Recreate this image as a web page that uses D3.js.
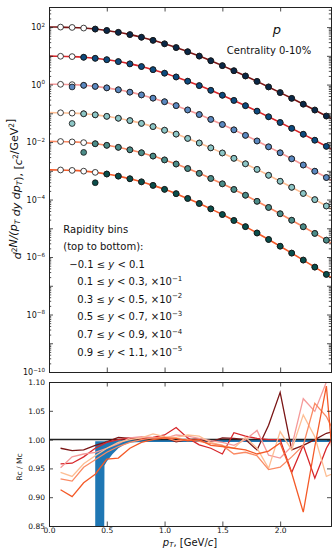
<!DOCTYPE html>
<html><head><meta charset="utf-8">
<script src="https://cdn.jsdelivr.net/npm/d3@7"></script>
<style>body{margin:0;background:#fff} text{font-family:"DejaVu Sans",sans-serif;fill:#111}</style>
</head><body><svg id="c" width="333" height="549"></svg>
<script>
// ---------- data ----------
const fitPt = [0.0,0.1,0.2,0.3,0.4,0.5,0.6,0.7,0.8,0.9,1.0,1.1,1.2,1.3,1.4,1.5,1.6,1.7,1.8,1.9,2.0,2.1,2.2,2.3,2.4,2.5];
const pT = [0.1,0.2,0.3,0.4,0.5,0.6,0.7,0.8,0.9,1.0,1.1,1.2,1.3,1.4,1.5,1.6,1.7,1.8,1.9,2.0,2.1,2.2,2.3,2.4];
const ratioPt = [0.1,0.2,0.3,0.4,0.5,0.6,0.7,0.8,0.9,1.0,1.1,1.2,1.3,1.4,1.5,1.6,1.7,1.8,1.9,2.0,2.1,2.2,2.3,2.4,2.5];
const scaleFactors = [1, 1e-1, 1e-2, 1e-3, 1e-4, 1e-5];
const scaleExps = ["", "−1", "−2", "−3", "−4", "−5"];
const rapidityBins = [["−0.1","0.1"],["0.1","0.3"],["0.3","0.5"],["0.5","0.7"],["0.7","0.9"],["0.9","1.1"]];

const fit1 = [100.7,100,97.3,92.5,85.3,76.2,65.8,54.8,44.3,34.6,26.2,19.4,13.9,9.79,6.75,4.56,3.03,1.99,1.29,0.828,0.526,0.332,0.208,0.130,0.0805,0.0498];
const fit2 = [97.3,96.6,93.9,89.2,82.1,73.3,63.1,52.5,42.4,33.0,24.9,18.4,13.1,9.20,6.32,4.25,2.81,1.84,1.19,0.758,0.479,0.300,0.187,0.116,0.0709,0.0436];
const fit3 = [103.0,102.2,99.3,94.2,86.4,76.8,65.9,54.5,43.6,33.7,25.3,18.5,13.1,9.06,6.14,4.08,2.66,1.71,1.09,0.682,0.423,0.261,0.159,0.0969,0.0583,0.0350];
const fit4 = [105.4,104.6,101.6,96.4,88.4,78.6,67.4,55.8,44.6,34.5,25.9,18.9,13.4,9.27,6.28,4.17,2.72,1.75,1.12,0.698,0.433,0.267,0.163,0.0991,0.0596,0.0358];
const fit5 = [105.4,104.6,101.3,95.6,87.3,77.1,65.6,53.7,42.5,32.5,23.9,17.2,12.0,8.16,5.41,3.52,2.24,1.41,0.869,0.531,0.320,0.191,0.113,0.0663,0.0386,0.0223];
const fit6 = [108.0,106.9,103.3,97.2,88.3,77.3,65.2,52.8,41.3,31.1,22.6,16.0,10.9,7.29,4.74,3.01,1.87,1.14,0.686,0.407,0.238,0.137,0.0784,0.0446,0.0249,0.0138];

const data1 = [null,null,null,85.3,76.2,65.8,54.8,44.3,34.6,26.2,19.4,13.9,9.79,6.75,4.56,3.03,1.99,1.29,0.828,0.526,0.332,0.208,0.130,0.0805];
const data2 = [null,null,89.2,82.1,73.3,63.1,52.5,42.4,33.0,24.9,18.4,13.1,9.20,6.32,4.25,2.81,1.84,1.19,0.758,0.479,0.300,0.187,0.116,0.0709];
const data3 = [null,82.6,94.2,86.4,76.8,65.9,54.5,43.6,33.7,25.3,18.5,13.1,9.06,6.14,4.08,2.66,1.71,1.09,0.682,0.423,0.261,0.159,0.0969,0.0583];
const data4 = [null,44.2,96.4,88.4,78.6,67.4,55.8,44.6,34.5,25.9,18.9,13.4,9.27,6.28,4.17,2.72,1.75,1.12,0.698,0.433,0.267,0.163,0.0991,0.0596];
const data5 = [null,null,43.7,87.3,77.1,65.6,53.7,42.5,32.5,23.9,17.2,12.0,8.16,5.41,3.52,2.24,1.41,0.869,0.531,0.320,0.191,0.113,0.0663,0.0386];
const data6 = [null,null,null,38.5,77.3,65.2,52.8,41.3,31.1,22.6,16.0,10.9,7.29,4.74,3.01,1.87,1.14,0.686,0.407,0.238,0.137,0.0784,0.0446,0.0249];

const ratio1 = [0.985,0.981,0.982,0.990,0.996,1.004,1.002,1.001,1.003,1.004,0.996,1.000,1.001,0.996,1.003,1.002,1.000,0.982,1.025,1.082,0.982,0.990,1.000,1.011,1.016];
const ratio2 = [0.958,0.959,0.970,0.985,0.995,1.000,1.003,1.002,1.004,1.008,1.021,1.003,0.991,0.985,0.975,1.012,1.006,1.002,1.000,1.000,0.943,0.990,0.933,0.985,1.020];
const ratio3 = [0.951,0.970,0.975,0.978,0.985,0.993,1.003,1.005,1.004,1.002,1.008,1.006,1.002,0.998,0.995,0.990,1.000,1.016,0.973,0.968,0.988,1.071,1.049,1.100,1.120];
const ratio4 = [0.943,0.936,0.958,0.972,0.985,0.995,1.000,1.003,1.010,1.005,1.004,1.008,1.006,0.995,0.990,0.985,1.004,0.985,0.950,1.014,0.982,1.043,1.005,0.936,0.945];
const ratio5 = [0.932,0.928,0.952,0.965,0.978,0.988,0.995,1.000,1.003,1.004,0.998,1.000,0.997,0.993,0.990,0.975,0.978,0.972,0.948,0.952,0.970,0.990,1.063,1.040,1.000];
const ratio6 = [0.913,0.901,0.925,0.940,0.966,0.968,0.985,0.995,1.000,1.003,1.002,0.998,1.000,0.990,0.988,0.985,0.982,0.975,0.980,0.994,0.942,0.874,0.988,1.093,0.860];

const bandPt = [0.40,0.478,0.48,0.50,0.55,0.60,0.65,0.70,0.80,0.90,1.0,1.5,2.0,2.5];
const bandLo = [0.85,0.85,0.955,0.962,0.975,0.985,0.991,0.995,0.996,0.996,0.996,0.996,0.996,0.996];
const bandHi = [0.997,0.997,0.997,0.998,0.998,0.999,0.999,1.000,1.001,1.001,1.001,1.001,1.001,1.001];

const xTicks = [0.0,0.5,1.0,1.5,2.0];
const ratioTicks = [0.85,0.90,0.95,1.00,1.05,1.10];
const yLabelPowers = [2,0,-2,-4,-6,-8,-10];

// ---------- styles ----------
const fills = ['#0b2847','#0d4a7e','#5b88c0','#8dc6c6','#4c8c88','#0a4d4a'];
const lineCols = ['#7a1515','#d7262a','#f59a9a','#fdbe94','#fa8a64','#f45a28'];

const fits = [fit1,fit2,fit3,fit4,fit5,fit6];
const datas = [data1,data2,data3,data4,data5,data6];
const ratios = [ratio1,ratio2,ratio3,ratio4,ratio5,ratio6];

const svg = d3.select('#c');
const L=49, R=331, T1=7, B1=372, T2=382, B2=526;
const x = d3.scaleLinear([0,2.44],[L,R]);
const y = d3.scaleLog([1e-10,5e2],[B1,T1]);
const y2 = d3.scaleLinear([0.85,1.10],[B2,T2]);
const ink = '#222';

const defs = svg.append('defs');
defs.append('clipPath').attr('id','c1').append('rect').attr('x',L).attr('y',T1).attr('width',R-L).attr('height',B1-T1);
defs.append('clipPath').attr('id','c2').append('rect').attr('x',L).attr('y',T2).attr('width',R-L).attr('height',B2-T2);

// ---------- top panel ----------
const g1 = svg.append('g').attr('clip-path','url(#c1)');
const line = d3.line().x(d=>x(d[0])).y(d=>y(d[1])).curve(d3.curveMonotoneX);
fits.forEach((f,i)=>{
  g1.append('path').attr('d', line(fitPt.map((p,j)=>[p, f[j]*scaleFactors[i]])))
    .attr('fill','none').attr('stroke',lineCols[i]).attr('stroke-width',1.6);
});
fits.forEach((f,i)=>{
  pT.forEach((p,j)=>{
    const v = f[fitPt.indexOf(p)]*scaleFactors[i];
    g1.append('circle').attr('cx',x(p)).attr('cy',y(v)).attr('r',2.9)
      .attr('fill','#fff').attr('stroke','#111').attr('stroke-width',0.8);
  });
});
datas.forEach((dd,i)=>{
  dd.forEach((v,j)=>{
    if(v==null) return;
    g1.append('circle').attr('cx',x(pT[j])).attr('cy',y(v*scaleFactors[i])).attr('r',2.9)
      .attr('fill',fills[i]).attr('stroke','#111').attr('stroke-width',0.8);
  });
});

function styleAxis(sel){
  sel.selectAll('path.domain').attr('stroke',ink).attr('stroke-width',1);
  sel.selectAll('line').attr('stroke',ink).attr('stroke-width',0.8);
  sel.selectAll('text').attr('font-family','DejaVu Sans').attr('fill','#111');
}
const majorY = d3.range(-10,3).map(k=>Math.pow(10,k));
const minorY = [];
for(let k=-10;k<=2;k++) for(let m=2;m<=9;m++){ const v=m*Math.pow(10,k); if(v<=5e2) minorY.push(v); }

[[d3.axisLeft, L],[d3.axisRight, R]].forEach(([ax,pos])=>{
  svg.append('g').attr('transform',`translate(${pos},0)`).call(ax(y).tickValues(minorY).tickSize(-2.2).tickFormat('')).call(styleAxis);
  svg.append('g').attr('transform',`translate(${pos},0)`).call(ax(y).tickValues(majorY).tickSize(-4).tickFormat('')).call(styleAxis);
});
svg.append('g').attr('transform',`translate(0,${B1})`).call(d3.axisBottom(x).tickValues(xTicks).tickSize(-4.5).tickFormat('')).call(styleAxis);
svg.append('g').attr('transform',`translate(0,${T1})`).call(d3.axisTop(x).tickValues(xTicks).tickSize(-4.5).tickFormat('')).call(styleAxis);

yLabelPowers.forEach(k=>{
  const t = svg.append('text').attr('x',L-4).attr('y',y(Math.pow(10,k))+3).attr('text-anchor','end').attr('font-size',8).attr('fill','#333');
  t.append('tspan').text('10');
  t.append('tspan').attr('dy',-3.5).attr('font-size',5.6).text(k<0?('−'+(-k)):String(k));
});

// y label top
const yl = svg.append('text').attr('transform',`translate(21,189) rotate(-90)`).attr('text-anchor','middle').attr('font-size',11);
[['d','i'],['2','sup'],['N/(','i'],['p','i'],['T','sub'],[' dy dp','i'],['T','sub'],['),  [','n'],['c','i'],['2','sup'],['/GeV','n'],['2','sup'],[']','n']].forEach(([s,k])=>{
  const ts = yl.append('tspan').text(s);
  if(k==='i') ts.attr('font-style','italic');
  if(k==='sup') ts.attr('font-size',7.5).attr('dy',-4);
  if(k==='sub') ts.attr('font-size',7.5).attr('dy',2.5).attr('font-style','italic');
  ts.attr('_k',k);
});
yl.selectAll('tspan').each(function(d,i,nodes){
  const k=this.getAttribute('_k');
  const prev = i>0 ? nodes[i-1].getAttribute('_k') : null;
  if((k==='i'||k==='n') && prev==='sup') this.setAttribute('dy',4);
  if((k==='i'||k==='n') && prev==='sub') this.setAttribute('dy',-2.5);
  this.removeAttribute('_k');
});

svg.append('text').attr('x',277).attr('y',34).attr('text-anchor','middle').attr('font-size',13).attr('font-style','italic').text('p');
svg.append('text').attr('x',269).attr('y',53.5).attr('text-anchor','middle').attr('font-size',10).text('Centrality 0-10%');

// legend text
svg.append('text').attr('x',63.3).attr('y',232.6).attr('font-size',10).text('Rapidity bins');
svg.append('text').attr('x',63.3).attr('y',250.3).attr('font-size',10).text('(top to bottom):');
rapidityBins.forEach((b,i)=>{
  const t = svg.append('text').attr('x', i===0?69.3:77.3).attr('y',267.6+i*17.6).attr('font-size',10);
  t.append('tspan').text(b[0]+' ≤ ');
  t.append('tspan').attr('font-style','italic').text('y');
  t.append('tspan').text(' < '+b[1]+(i>0?', ×10':''));
  if(i>0) t.append('tspan').attr('dy',-4.5).attr('font-size',7).text(scaleExps[i]);
});

// ---------- bottom panel ----------
const g2 = svg.append('g').attr('clip-path','url(#c2)');
const area = d3.area().x(d=>x(d[0])).y0(d=>y2(d[1])).y1(d=>y2(d[2]));
g2.append('path').attr('d',area(bandPt.map((p,i)=>[p,bandLo[i],bandHi[i]]))).attr('fill','#1f77b4');
g2.append('line').attr('x1',L).attr('x2',R).attr('y1',y2(1)).attr('y2',y2(1)).attr('stroke','#222').attr('stroke-width',1.5);
const rline = d3.line().x(d=>x(d[0])).y(d=>y2(d[1]));
ratios.forEach((r,i)=>{
  g2.append('path').attr('d',rline(ratioPt.map((p,j)=>[p,r[j]]))).attr('fill','none').attr('stroke',lineCols[i]).attr('stroke-width',1.3);
});

svg.append('g').attr('transform',`translate(${L},0)`).call(d3.axisLeft(y2).tickValues(ratioTicks).tickSize(-4).tickPadding(4).tickFormat(d3.format('.2f'))).call(styleAxis)
  .selectAll('text').attr('font-size',7.5).attr('fill','#333');
svg.append('g').attr('transform',`translate(${R},0)`).call(d3.axisRight(y2).tickValues(ratioTicks).tickSize(-4).tickFormat('')).call(styleAxis);
svg.append('g').attr('transform',`translate(0,${B2})`).call(d3.axisBottom(x).tickValues(xTicks).tickSize(-4.5).tickPadding(1.5).tickFormat(d3.format('.1f'))).call(styleAxis)
  .selectAll('text').attr('font-size',7.5).attr('fill','#333');
svg.append('g').attr('transform',`translate(0,${T2})`).call(d3.axisTop(x).tickValues(xTicks).tickSize(-4.5).tickFormat('')).call(styleAxis);

svg.append('text').attr('transform','translate(22,467) rotate(-90)').attr('text-anchor','middle').attr('font-size',7.5).text('Rc / Mc');

const xl = svg.append('text').attr('x',190).attr('y',545.5).attr('text-anchor','middle').attr('font-size',10);
xl.append('tspan').attr('font-style','italic').text('p');
xl.append('tspan').attr('font-style','italic').attr('font-size',7).attr('dy',1.5).text('T');
xl.append('tspan').attr('dy',-1.5).text(', [GeV/');
xl.append('tspan').attr('font-style','italic').text('c');
xl.append('tspan').text(']');
</script></body></html>
